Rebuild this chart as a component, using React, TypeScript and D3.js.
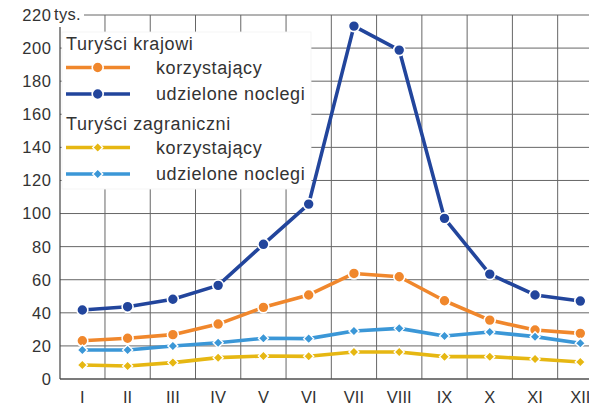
import React from 'react';
import * as d3 from 'd3';

const months = ['I', 'II', 'III', 'IV', 'V', 'VI', 'VII', 'VIII', 'IX', 'X', 'XI', 'XII'];
const yTicks = [0, 20, 40, 60, 80, 100, 120, 140, 160, 180, 200, 220];

// tys. osób
const krajowiKorzystajacy = [23.1, 24.6, 26.8, 33.2, 43.3, 50.8, 63.8, 61.8, 47.3, 35.6, 29.6, 27.6];
const krajowiNoclegi = [41.7, 43.7, 48.2, 56.6, 81.4, 105.7, 213.3, 198.8, 97.1, 63.4, 50.8, 47.1];
const zagraniczniKorzystajacy = [8.5, 7.9, 9.9, 12.9, 13.9, 13.7, 16.3, 16.3, 13.5, 13.5, 12.1, 10.3];
const zagraniczniNoclegi = [17.5, 17.5, 19.9, 21.9, 24.6, 24.4, 29.0, 30.6, 26.0, 28.4, 25.6, 21.6];

const W = 589;
const H = 406;
const FONT = '"Liberation Sans", Arial, sans-serif';

const series = [
  { values: krajowiNoclegi, color: '#22459c', shape: 'circle' },
  { values: krajowiKorzystajacy, color: '#f0872c', shape: 'circle' },
  { values: zagraniczniNoclegi, color: '#3b97d7', shape: 'diamond' },
  { values: zagraniczniKorzystajacy, color: '#e6b712', shape: 'diamond' },
];

const Marker = ({ x, y, color, shape }) => {
  if (shape === 'circle') {
    return <circle cx={x} cy={y} r={5.5} fill={color} stroke="#fff" strokeWidth={1.6} />;
  }
  const s = 5;
  return (
    <path
      d={`M${x},${y - s}L${x + s},${y}L${x},${y + s}L${x - s},${y}Z`}
      fill={color}
      stroke="#fff"
      strokeWidth={1.4}
    />
  );
};

const App = () => {
  const x = d3.scaleBand<string>().domain(months).range([59.7, 59.7 + 12 * 45.27]);
  const y = d3.scaleLinear().domain([0, 220]).range([379, 15]);
  const cx = (m: string) => (x(m) as number) + x.bandwidth() / 2;

  const line = d3
    .line<number>()
    .x((_, i) => cx(months[i]))
    .y((d) => y(d));

  const boundaries = months.map((m) => x(m) as number).slice(1).concat([(x('XII') as number) + x.bandwidth()]);

  const legendItems = [
    { title: 'Turyści krajowi', ty: 50 },
    { label: 'korzystający', color: '#f0872c', shape: 'circle', cy: 67.5 },
    { label: 'udzielone noclegi', color: '#22459c', shape: 'circle', cy: 94 },
    { title: 'Turyści zagraniczni', ty: 130 },
    { label: 'korzystający', color: '#e6b712', shape: 'diamond', cy: 147.5 },
    { label: 'udzielone noclegi', color: '#3b97d7', shape: 'diamond', cy: 174 },
  ];

  return (
    <svg width={W} height={H} style={{ position: 'absolute', left: 0, top: 0, background: '#fff' }}>
      {/* grid */}
      <g stroke="#666" strokeWidth={1}>
        {yTicks.map((t) => (
          <line key={t} x1={t === 220 ? 84 : 60} x2={W} y1={y(t)} y2={y(t)} />
        ))}
        {boundaries.map((b, i) => (
          <line key={i} x1={b} x2={b} y1={y(220)} y2={y(0)} />
        ))}
        <line x1={60} x2={60} y1={27} y2={y(0)} strokeWidth={1.2} stroke="#444" />
        <line x1={60} x2={W} y1={y(0)} y2={y(0)} strokeWidth={1.2} stroke="#444" />
      </g>

      {/* y labels */}
      <g fontFamily={FONT} fontSize={16.5} letterSpacing={0.6} fill="#333" textAnchor="end">
        {yTicks.map((t) => (
          <text key={t} x={51.5} y={y(t)} dy="0.36em">
            {t}
          </text>
        ))}
      </g>
      <text x={54} y={y(220)} dy="0.3em" fontFamily={FONT} fontSize={16.5} letterSpacing={0.3} fill="#333">
        tys.
      </text>

      {/* x labels */}
      <g fontFamily={FONT} fontSize={16.5} fill="#333" textAnchor="middle">
        {months.map((m) => (
          <text key={m} x={cx(m)} y={397} dy="0.36em">
            {m}
          </text>
        ))}
      </g>

      {/* legend background */}
      <rect x={62} y={32} width={249} height={157} fill="#fff" stroke="#f2f2f2" strokeWidth={0.8} />

      {/* lines */}
      {series.map((s, i) => (
        <path key={i} d={line(s.values) as string} fill="none" stroke={s.color} strokeWidth={3.6} strokeLinejoin="round" />
      ))}
      {series.map((s, i) => (
        <g key={i}>
          {s.values.map((v, j) => (
            <Marker key={j} x={cx(months[j])} y={y(v)} color={s.color} shape={s.shape} />
          ))}
        </g>
      ))}

      {/* legend */}
      <g fontFamily={FONT} fontSize={18} letterSpacing={0.6} fill="#333">
        {legendItems.map((it, i) =>
          it.title ? (
            <text key={i} x={66} y={it.ty}>
              {it.title}
            </text>
          ) : (
            <g key={i}>
              <line x1={66} x2={130} y1={it.cy} y2={it.cy} stroke={it.color} strokeWidth={3.6} />
              <Marker x={97.7} y={it.cy} color={it.color} shape={it.shape} />
              <text x={156} y={it.cy} dy="0.36em">
                {it.label}
              </text>
            </g>
          )
        )}
      </g>
    </svg>
  );
};

export default App;
